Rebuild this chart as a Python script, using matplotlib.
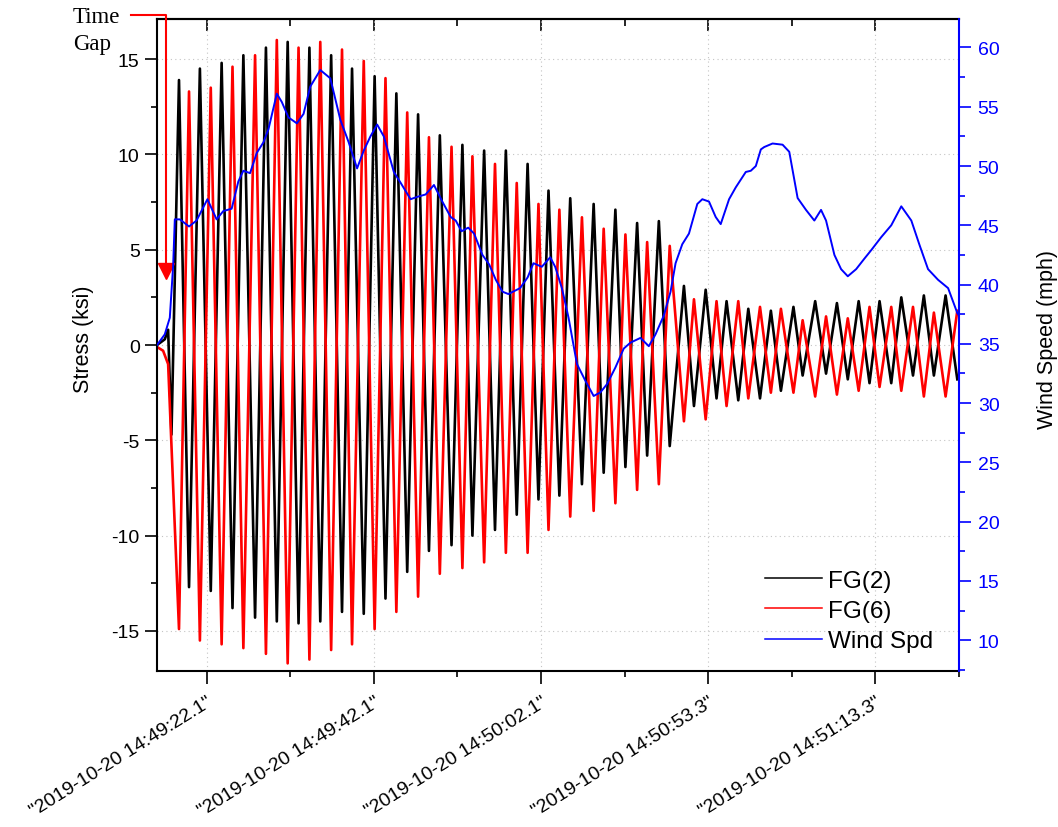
import numpy as np
import matplotlib.pyplot as plt
from matplotlib.lines import Line2D
from matplotlib.ticker import MultipleLocator, FixedLocator

plt.rcParams['font.family'] = ['Liberation Sans', 'DejaVu Sans']
plt.rcParams['axes.unicode_minus'] = False

# x axis: elapsed seconds on the gap-compressed time axis
tick_pos = [0, 20, 40, 60, 80]
minor_pos = [10, 30, 50, 70, 90]
tick_labels = ['"2019-10-20 14:49:22.1"', '"2019-10-20 14:49:42.1"',
               '"2019-10-20 14:50:02.1"', '"2019-10-20 14:50:53.3"',
               '"2019-10-20 14:51:13.3"']
gap_t = -4.85  # where the "Time Gap" marker points

# extremum times (FG(2) peaks = FG(6) troughs and vice versa)
t_pk_a = [-3.3, -0.8, 1.8, 4.4, 7.1, 9.7, 12.3, 14.9, 17.4, 20.1, 22.7, 25.3,
          27.9, 30.6, 33.2, 35.8, 38.4, 40.9, 43.5, 46.3, 48.9, 51.5, 54.1,
          57.1, 59.7, 62.2, 64.8, 67.5, 70.2, 72.8, 75.4, 78.0, 80.5, 83.1, 85.8, 88.4]
t_pk_b = [-2.1, 0.5, 3.1, 5.8, 8.4, 11.0, 13.6, 16.2, 18.8, 21.4, 24.0, 26.6,
          29.3, 31.8, 34.5, 37.1, 39.7, 42.2, 44.9, 47.5, 50.1, 52.7, 55.4,
          58.3, 61.0, 63.6, 66.2, 68.7, 71.3, 74.1, 76.7, 79.3, 81.9, 84.5, 87.0, 89.8]

# FG(2) stress (ksi)
fg2_hi = [13.9, 14.5, 14.8, 15.2, 15.6, 15.9, 15.6, 15.2, 14.5, 14.1, 13.2, 12.1,
          11.0, 10.5, 10.2, 10.2, 9.5, 8.1, 7.7, 7.4, 7.1, 6.4, 6.5,
          3.1, 2.9, 2.3, 1.9, 1.8, 2.0, 2.3, 2.2, 2.3, 2.3, 2.5, 2.6, 2.6]
fg2_lo = [-12.7, -12.9, -13.8, -14.3, -14.5, -14.6, -14.5, -14.0, -14.1, -13.3, -11.9, -10.8,
          -10.5, -10.0, -9.7, -8.9, -8.1, -7.9, -7.3, -6.7, -6.4, -5.8, -5.3,
          -3.2, -2.8, -2.9, -2.8, -2.4, -1.6, -1.5, -1.8, -2.0, -2.0, -1.6, -1.6, -1.8]
fg2_lead_t = [-5.93, -5.0, -4.6, -4.2]
fg2_lead = [0.0, 0.3, 0.8, -4.7]

# FG(6) stress (ksi)
fg6_hi = [13.3, 13.5, 14.6, 15.2, 16.0, 15.6, 15.9, 15.5, 14.9, 14.0, 12.2, 10.9,
          10.4, 9.9, 9.5, 8.5, 7.4, 7.1, 6.7, 6.1, 5.8, 5.4, 5.2,
          2.4, 2.3, 2.3, 2.0, 1.9, 1.3, 1.5, 1.4, 2.0, 2.0, 2.0, 1.7, 1.8]
fg6_lo = [-14.9, -15.5, -15.7, -15.9, -16.2, -16.7, -16.5, -16.0, -15.7, -14.9, -14.0, -13.2,
          -12.0, -11.7, -11.4, -10.9, -10.9, -9.7, -9.0, -8.7, -8.3, -7.6, -7.3,
          -4.0, -3.9, -3.2, -2.8, -2.5, -2.5, -2.7, -2.6, -2.4, -2.2, -2.4, -2.7, -2.7]
fg6_lead_t = [-5.93, -5.2, -4.6]
fg6_lead = [-0.1, -0.3, -1.0]

# wind speed (mph)
t_wind = [-5.93, -5.0, -4.4, -4.0, -3.8, -3.2, -2.1, -1.2, 0.1, 1.2, 2.0, 3.0, 3.8, 4.4,
          5.2, 6.0, 6.8, 7.4, 8.4, 9.0, 9.8, 10.8, 11.6, 12.4, 13.6, 14.8, 16.0, 17.0,
          18.0, 18.8, 19.6, 20.4, 21.2, 21.8, 22.4, 23.2, 24.4, 25.2, 26.2, 27.2, 28.2,
          29.2, 29.8, 30.5, 31.3, 32.0, 33.0, 33.8, 34.6, 35.4, 36.1, 37.5, 38.4, 39.1,
          40.1, 41.1, 41.7, 42.5, 43.3, 44.3, 45.3, 46.3, 47.1, 47.9, 48.9, 49.9, 50.7,
          51.9, 52.9, 53.7, 54.7, 55.5, 56.1, 56.9, 57.7, 58.7, 59.3, 60.1, 60.9, 61.5,
          62.5, 63.3, 64.5, 65.1, 65.7, 66.3, 66.7, 67.7, 68.9, 69.7, 70.7, 71.7, 72.7,
          73.5, 74.1, 75.1, 75.9, 76.7, 77.7, 78.7, 79.5, 80.7, 81.9, 83.1, 84.3, 85.3,
          86.3, 87.5, 88.7, 89.8, 90.0]
wind = [34.9, 35.8, 37.2, 41.6, 45.5, 45.5, 44.9, 45.4, 47.2, 45.5, 46.2, 46.4, 48.7, 49.6,
        49.4, 51.1, 52.0, 53.1, 56.1, 55.4, 54.1, 53.6, 54.4, 56.7, 58.1, 57.4, 53.9, 52.0,
        49.8, 51.3, 52.5, 53.5, 52.5, 51.0, 49.5, 48.6, 47.2, 47.4, 47.6, 48.4, 47.0,
        45.7, 45.4, 44.5, 44.8, 44.3, 42.5, 41.7, 40.4, 39.4, 39.2, 39.7, 40.6, 41.8,
        41.5, 42.3, 41.5, 39.7, 37.2, 33.3, 31.9, 30.6, 30.9, 31.6, 33.0, 34.6, 35.1,
        35.5, 34.8, 35.8, 37.4, 39.4, 41.8, 43.4, 44.3, 46.8, 47.2, 47.0, 45.7, 45.1,
        47.2, 48.2, 49.5, 49.6, 50.0, 51.4, 51.6, 51.9, 51.8, 51.2, 47.3, 46.3, 45.4,
        46.3, 45.4, 42.5, 41.3, 40.7, 41.3, 42.2, 42.9, 44.0, 45.0, 46.6, 45.4, 43.3,
        41.3, 40.4, 39.7, 37.6, 37.4]


def series(lead_t, lead_v, t_hi, v_hi, t_lo, v_lo):
    t = np.concatenate([lead_t, t_hi, t_lo])
    v = np.concatenate([lead_v, v_hi, v_lo])
    order = np.argsort(t, kind='stable')
    return t[order], v[order]


t2, v2 = series(fg2_lead_t, fg2_lead, t_pk_a, fg2_hi, t_pk_b, fg2_lo)
t6, v6 = series(fg6_lead_t, fg6_lead, t_pk_b, fg6_hi, t_pk_a, fg6_lo)

fig = plt.figure(figsize=(10.58, 8.28), dpi=100)
ax = fig.add_axes([0.1484, 0.1884, 0.7580, 0.7874])

ax.plot(t2, v2, color='black', lw=1.9)
ax.plot(t6, v6, color='red', lw=1.9)
ax.set_xlim(-5.93, 90.0)
ax.set_ylim(-17.1, 17.1)

ax.set_axisbelow(True)
ax.grid(True, which='major', color='#c4c4c4', linestyle=(0, (1, 3)), lw=0.8)

ax.set_xticks(tick_pos)
ax.set_xticklabels(tick_labels, rotation=32, ha='right', va='top',
                   rotation_mode='anchor', fontsize=17)
ax.xaxis.set_minor_locator(FixedLocator(minor_pos))
ax.yaxis.set_major_locator(MultipleLocator(5))
ax.yaxis.set_minor_locator(MultipleLocator(2.5))
ax.tick_params(which='major', direction='out', length=8.5, width=1.2, labelsize=14)
ax.tick_params(which='minor', direction='out', length=4.5, width=1.2)
ax.tick_params(axis='x', which='major', length=9, pad=7)
ax.tick_params(axis='y', which='major', pad=4)
ax.set_ylabel('Stress (ksi)', fontsize=15.5)
ax.yaxis.set_label_coords(-0.078, 0.51)
for s in ['left', 'top', 'bottom']:
    ax.spines[s].set_linewidth(1.5)
ax.spines['right'].set_visible(False)

top = ax.secondary_xaxis('top')
top.set_xticks(tick_pos)
top.set_xticklabels([])
top.xaxis.set_minor_locator(FixedLocator(minor_pos))
top.tick_params(which='major', direction='in', length=8.5, width=1.2)
top.tick_params(which='minor', direction='in', length=5, width=1.2)
top.spines['top'].set_linewidth(1.5)

ax2 = ax.twinx()
ax2.plot(t_wind, wind, color='blue', lw=1.4)
ax2.set_ylim(7.4, 62.4)
ax2.yaxis.set_major_locator(MultipleLocator(5))
ax2.yaxis.set_minor_locator(MultipleLocator(2.5))
ax2.tick_params(which='major', direction='out', length=8.5, width=1.2, colors='blue',
                labelsize=14, pad=5)
ax2.tick_params(which='minor', direction='out', length=4.5, width=1.2, colors='blue')
ax2.spines['right'].set_color('blue')
ax2.spines['right'].set_linewidth(1.5)
for s in ['left', 'top', 'bottom']:
    ax2.spines[s].set_visible(False)
ax2.set_ylabel('Wind Speed (mph)', fontsize=15.5, color='black')
ax2.yaxis.set_label_coords(1.097, 0.51)

handles = [Line2D([], [], color='black', lw=1.1),
           Line2D([], [], color='red', lw=1.1),
           Line2D([], [], color='blue', lw=1.1)]
ax2.legend(handles, ['FG(2)', 'FG(6)', 'Wind Spd'], loc='upper left',
           bbox_to_anchor=(0.758, 0.155), frameon=False, fontsize=17.5,
           handlelength=2.35, handletextpad=0.25, labelspacing=0.33,
           borderpad=0, borderaxespad=0)

# "Time Gap" marker
ax.plot([-9.08, gap_t, gap_t], [17.31, 17.31, 4.3], color='red', lw=1.5,
        clip_on=False, zorder=5)
ax.plot([gap_t], [3.9], marker='v', ms=11, color='red', clip_on=False, zorder=5)
fig.text(73 / 1058, 1 - 22.7 / 828, 'Time', fontsize=16.5, va='baseline',
         family=['Liberation Serif', 'DejaVu Serif'])
fig.text(73 / 1058, 1 - 50 / 828, 'Gap', fontsize=16.5, va='baseline',
         family=['Liberation Serif', 'DejaVu Serif'])

fig.savefig('out.png', dpi=100)
